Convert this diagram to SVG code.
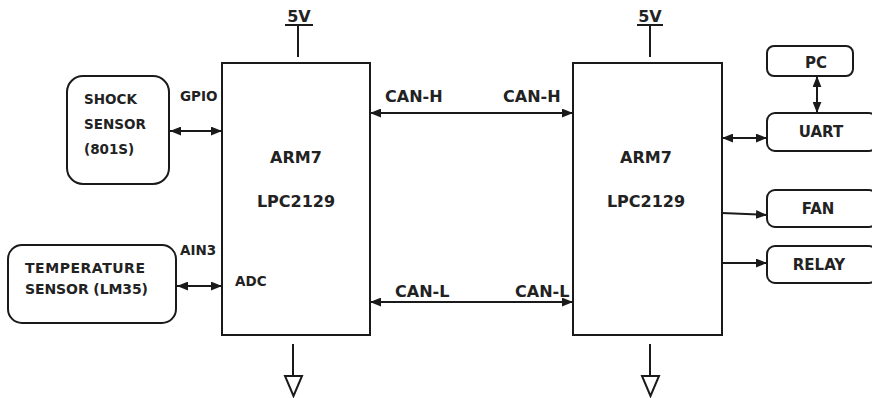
<svg xmlns="http://www.w3.org/2000/svg" width="872" height="398" viewBox="0 0 872 398">
<defs>
<marker id="ah" viewBox="0 0 10 8" refX="10" refY="4" markerWidth="11" markerHeight="9" markerUnits="userSpaceOnUse" orient="auto-start-reverse">
<path d="M0,0 L10,4 L0,8 Z" fill="#1a1a1a"/>
</marker>
</defs>
<style>
.box{fill:#fff;stroke:#1a1a1a;stroke-width:2}
.ln{fill:none;stroke:#1a1a1a;stroke-width:2}
.t{font-family:"DejaVu Sans","Liberation Sans",sans-serif;font-weight:bold;fill:#222}
.big{font-size:14px}
.can{font-size:16px}
.box15{font-size:15px}
.sm{font-size:13.5px}
.ctr{text-anchor:middle}
</style>
<rect width="872" height="398" fill="#fff"/>
<g id="arm-left">
<rect class="box" x="222" y="63" width="148" height="272"/>
<text class="t can ctr" x="296" y="163">ARM7</text>
<text class="t can ctr" x="296" y="207">LPC2129</text>
<text class="t sm" x="235" y="286">ADC</text>
</g>
<g id="arm-right">
<rect class="box" x="573" y="63" width="149" height="272"/>
<text class="t can ctr" x="646" y="163">ARM7</text>
<text class="t can ctr" x="646" y="207">LPC2129</text>
</g>
<g id="shock">
<rect class="box" x="67" y="76" width="102" height="108" rx="16"/>
<text class="t sm" x="84" y="104">SHOCK</text>
<text class="t sm" x="84" y="129">SENSOR</text>
<text class="t sm" x="84" y="154">(801S)</text>
</g>
<g id="temp">
<rect class="box" x="8" y="245" width="168" height="78" rx="14"/>
<text class="t big" x="25" y="273" textLength="120">TEMPERATURE</text>
<text class="t big" x="25" y="294" textLength="123">SENSOR (LM35)</text>
</g>
<g id="pc">
<rect class="box" x="767" y="46" width="86" height="30" rx="7"/>
<text class="t box15 ctr" x="816" y="68">PC</text>
</g>
<g id="uart">
<rect class="box" x="767" y="113" width="110" height="38" rx="8"/>
<text class="t box15 ctr" x="821" y="137">UART</text>
</g>
<g id="fan">
<rect class="box" x="767" y="190" width="110" height="37" rx="8"/>
<text class="t box15 ctr" x="818" y="214">FAN</text>
</g>
<g id="relay">
<rect class="box" x="767" y="246" width="110" height="37" rx="8"/>
<text class="t box15 ctr" x="819" y="270">RELAY</text>
</g>
<g id="power-left">
<text class="t can ctr" x="299" y="22">5V</text>
<path class="ln" d="M285,25 H313 M298,25 V57"/>
</g>
<g id="power-right">
<text class="t can ctr" x="650" y="22">5V</text>
<path class="ln" d="M637,25 H663 M650,25 V57"/>
</g>
<g id="ground-left">
<path class="ln" d="M293,344 V375"/>
<path class="ln" d="M285,376 H302 L293.5,396 Z"/>
</g>
<g id="ground-right">
<path class="ln" d="M650,344 V375"/>
<path class="ln" d="M642,376 H659 L650.5,396 Z"/>
</g>
<g id="connectors">
<line class="ln" x1="170" y1="131" x2="222" y2="131" marker-start="url(#ah)" marker-end="url(#ah)"/>
<text class="t sm" x="180" y="101">GPIO</text>
<line class="ln" x1="177" y1="286" x2="222" y2="286" marker-start="url(#ah)" marker-end="url(#ah)"/>
<text class="t sm" x="180" y="255">AIN3</text>
<line class="ln" x1="370" y1="113" x2="573" y2="113" marker-start="url(#ah)" marker-end="url(#ah)"/>
<text class="t can" x="385" y="102">CAN-H</text>
<text class="t can" x="503" y="102">CAN-H</text>
<line class="ln" x1="370" y1="302" x2="573" y2="302" marker-start="url(#ah)" marker-end="url(#ah)"/>
<text class="t can" x="395" y="297">CAN-L</text>
<text class="t can" x="515" y="297">CAN-L</text>
<line class="ln" x1="817" y1="76" x2="817" y2="113" marker-start="url(#ah)" marker-end="url(#ah)"/>
<line class="ln" x1="722" y1="138" x2="767" y2="138" marker-start="url(#ah)" marker-end="url(#ah)"/>
<line class="ln" x1="722" y1="213" x2="767" y2="215" marker-end="url(#ah)"/>
<line class="ln" x1="722" y1="263" x2="767" y2="263" marker-end="url(#ah)"/>
</g>
</svg>
